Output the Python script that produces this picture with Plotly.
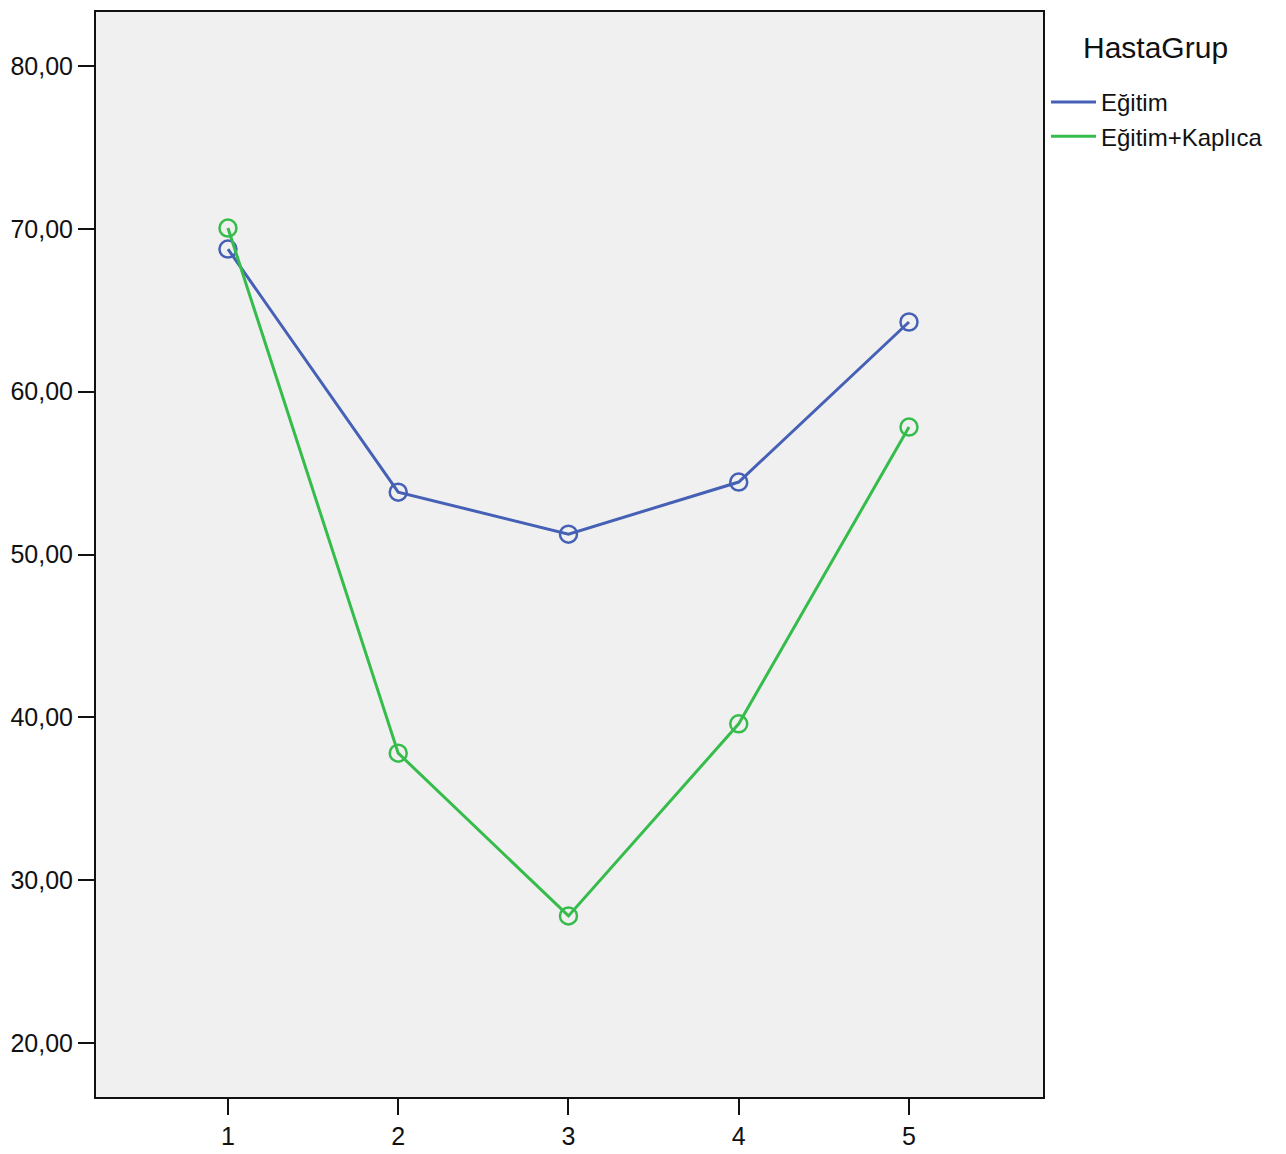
import plotly.graph_objects as go

x_labels = [1, 2, 3, 4, 5]
egitim = [68.76, 53.83, 51.25, 54.45, 64.28]
egitim_kaplica = [70.05, 37.80, 27.80, 39.60, 57.83]
y_ticks = [20, 30, 40, 50, 60, 70, 80]
y_tick_text = ["20,00", "30,00", "40,00", "50,00", "60,00", "70,00", "80,00"]

FONT = "Liberation Sans, Arial, sans-serif"
BLUE = "#4560B5"
GREEN = "#35BC4B"
TXT = "#111111"
W, H = 1286, 1154

fig = go.Figure()
for name, vals, col in [("Eğitim", egitim, BLUE), ("Eğitim+Kaplıca", egitim_kaplica, GREEN)]:
    fig.add_trace(go.Scatter(
        x=x_labels, y=vals, name=name, mode="lines+markers", showlegend=False,
        line=dict(color=col, width=3),
        marker=dict(symbol="circle-open", size=17, color=col, line=dict(width=2.5, color=col)),
    ))
# legend entries (line only, as in the reference)
for name, col in [("Eğitim", BLUE), ("Eğitim+Kaplıca", GREEN)]:
    fig.add_trace(go.Scatter(
        x=[None], y=[None], name=name, mode="lines",
        line=dict(color=col, width=3), showlegend=True,
    ))

fig.add_annotation(
    text="HastaGrup", xref="paper", yref="paper",
    x=(1155 - 96) / (1043 - 96), y=1 - (48 - 12) / (1097 - 12),
    xanchor="center", yanchor="middle", showarrow=False,
    font=dict(size=30, family=FONT, color=TXT),
)

fig.update_layout(
    width=W, height=H,
    margin=dict(l=96, r=W - 1043, t=12, b=H - 1097),
    paper_bgcolor="white", plot_bgcolor="#F0F0F0",
    font=dict(family=FONT, color=TXT),
    showlegend=True,
    legend=dict(
        font=dict(size=24, family=FONT, color=TXT),
        xref="container", yref="container",
        x=1046 / W, y=1 - 80 / H, xanchor="left", yanchor="top",
        bgcolor="rgba(0,0,0,0)", tracegroupgap=0, itemwidth=45,
    ),
    xaxis=dict(
        range=[0.225, 5.787], tickmode="array", tickvals=x_labels,
        ticktext=[str(v) for v in x_labels],
        ticks="outside", ticklen=16, tickwidth=2, tickcolor=TXT,
        tickfont=dict(size=25, family=FONT, color=TXT),
        showgrid=False, zeroline=False, automargin=False,
        showline=True, linecolor=TXT, linewidth=2, mirror=True,
    ),
    yaxis=dict(
        range=[16.68, 83.32], tickmode="array", tickvals=y_ticks, ticktext=y_tick_text,
        ticks="outside", ticklen=16, tickwidth=2, tickcolor=TXT,
        tickfont=dict(size=25, family=FONT, color=TXT),
        showgrid=False, zeroline=False, automargin=False,
        showline=True, linecolor=TXT, linewidth=2, mirror=True,
    ),
)

fig.write_html(
    "out.html",
    config={"displayModeBar": False},
    post_script="document.body.style.margin='0';document.body.style.overflow='hidden';",
)
